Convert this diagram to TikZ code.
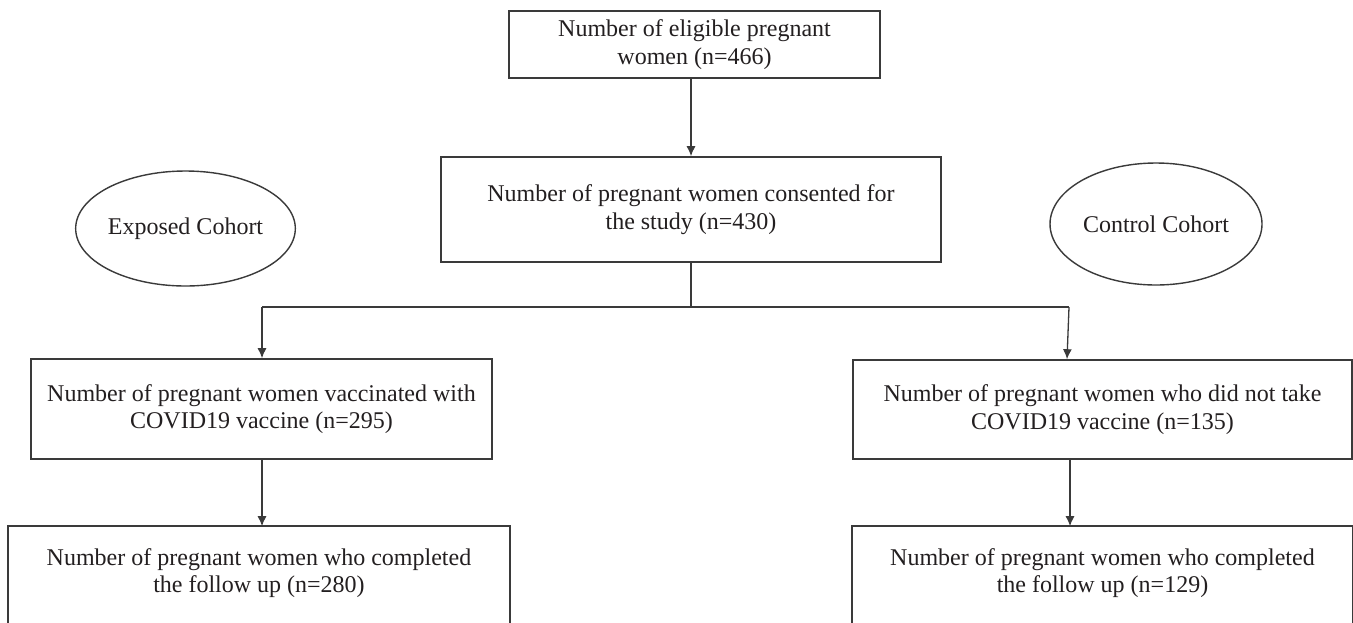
\documentclass[tikz,border=0pt]{standalone}
\usepackage{fontspec}
\setmainfont{Liberation Serif}
\usetikzlibrary{arrows.meta,shapes.geometric,calc}
\definecolor{ink}{HTML}{231F20}
\definecolor{edge}{HTML}{3A3A3A}
\begin{document}
\begin{tikzpicture}[x=0.5pt,y=-0.5pt,
  box/.style={draw=edge,line width=0.8pt,rectangle,align=center,inner sep=0pt,
    font=\fontsize{12}{13.7}\selectfont,text=ink},
  openbox/.style={box,draw=none},
  oval/.style={draw=edge,line width=0.7pt,ellipse,inner sep=0pt,
    font=\fontsize{12}{13.7}\selectfont,text=ink},
  conn/.style={draw=edge,line width=0.65pt},
  arr/.style={conn,-{Latex[length=5pt,width=4.5pt]}}]
\useasboundingbox (0,0) rectangle (1353,622);
\clip (0,0) rectangle (1353,622);
\fill[white] (0,0) rectangle (1353,622);

\node[box,minimum width=185.5pt,minimum height=33.5pt] (top) at (694.5,44.5)
  {Number of eligible pregnant\\women (n=466)};
\node[box,minimum width=250pt,minimum height=52.5pt] (cons) at (691,209.5)
  {Number of pregnant women consented for\\the study (n=430)};
\node[oval,minimum width=106.5pt,minimum height=57.5pt] (exp) at (185.5,228.5) {Exposed Cohort};
\node[oval,minimum width=106pt,minimum height=61pt] (ctl) at (1156,224) {Control Cohort};
\node[box,minimum width=230.5pt,minimum height=50pt] (vacc) at (261.5,409)
  {Number of pregnant women vaccinated with\\COVID19 vaccine (n=295)};
\node[box,minimum width=249.5pt,minimum height=49.5pt] (novacc) at (1102.5,409.5)
  {Number of pregnant women who did not take\\COVID19 vaccine (n=135)};
\node[openbox,minimum width=250pt,minimum height=46pt] (fuL) at (259,573)
  {Number of pregnant women who completed\\the follow up (n=280)};
\node[openbox,minimum width=249.5pt,minimum height=46pt] (fuR) at (1102.5,573)
  {Number of pregnant women who completed\\the follow up (n=129)};

\draw[conn,line width=0.8pt] ($(fuL.south west)+(0,60)$) -- (fuL.north west) -- (fuL.north east) -- ($(fuL.south east)+(0,60)$);
\draw[conn,line width=0.8pt] ($(fuR.south west)+(0,60)$) -- (fuR.north west) -- (fuR.north east) -- ($(fuR.south east)+(0,60)$);

\coordinate (j) at (691,307);
\coordinate (jl) at (262,307);
\coordinate (jr) at (1069,307);

\draw[arr] (cons.north |- top.south) -- (cons.north);
\draw[conn] (cons.south) -- (j);
\draw[conn] (jl) -- (jr);
\draw[arr] (jl) -- (jl |- vacc.north);
\draw[arr] (jr) -- ([xshift=-1pt]jr |- novacc.north);
\draw[arr] (vacc.south -| jl) -- (jl |- fuL.north);
\draw[arr] ([xshift=0.5pt]novacc.south -| jr) -- ([xshift=0.5pt]jr |- fuR.north);
\end{tikzpicture}
\end{document}
